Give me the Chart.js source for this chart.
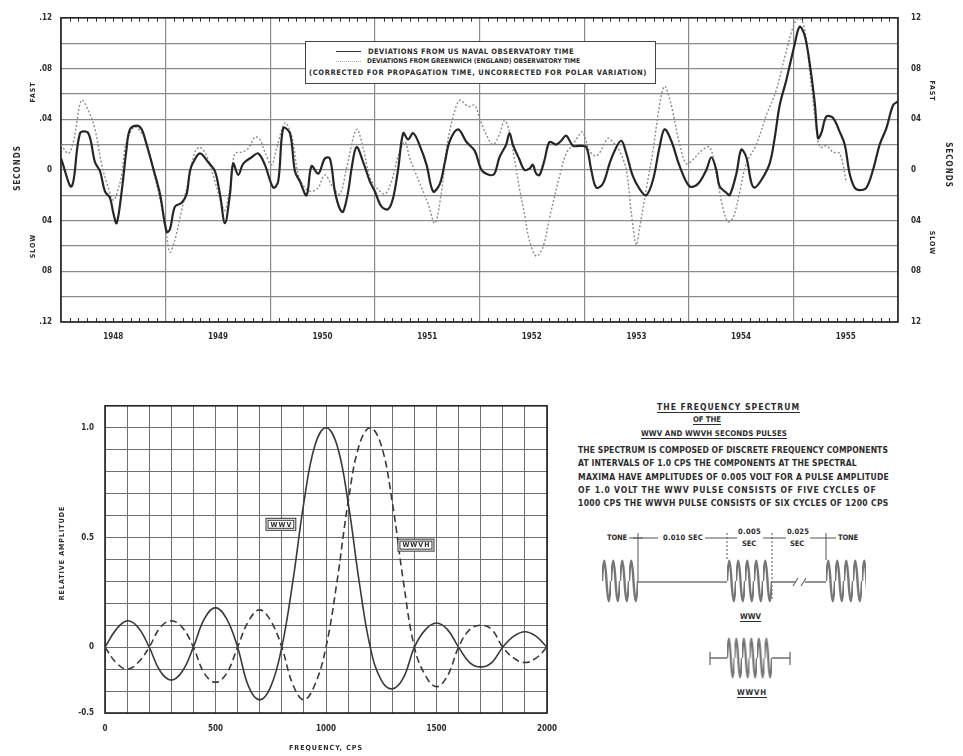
<!DOCTYPE html>
<html><head><meta charset="utf-8">
<script src="https://cdn.jsdelivr.net/npm/chart.js@4.4.1/dist/chart.umd.min.js"></script>
<style>
html,body{margin:0;padding:0;background:#fff;}
#page{position:relative;width:963px;height:756px;overflow:hidden;background:#fff;}
canvas{position:absolute;}
.t{position:absolute;font-family:"Liberation Sans Narrow","DejaVu Sans Condensed",sans-serif;font-weight:bold;color:#2c2c2c;white-space:nowrap;line-height:1;font-size:8.5px;}
.s{font-size:7.5px;}
.xs{font-size:6.6px;}
.m{font-size:7.8px;}
.u{text-decoration:underline;text-underline-offset:2px;}
#legbox{position:absolute;left:305px;top:41px;width:349px;height:41px;border:1.3px solid #444;background:#fff;}
</style></head><body>
<div id="page">
<canvas id="c1" width="963" height="350" style="left:0;top:0"></canvas>
<canvas id="c2" width="570" height="366" style="left:0;top:390px"></canvas>

<div id="legbox"></div>
<div style="position:absolute;left:336px;top:51px;width:25px;border-top:1.4px solid #333"></div>
<div style="position:absolute;left:336px;top:61px;width:25px;border-top:1.2px dotted #aaa"></div>
<div class="t s" data-x="368" data-y="51.5" data-w="206">DEVIATIONS FROM US NAVAL OBSERVATORY TIME</div>
<div class="t xs" data-x="367" data-y="61.5" data-w="213">DEVIATIONS FROM GREENWICH (ENGLAND) OBSERVATORY TIME</div>
<div class="t s" data-x="309" data-y="73" data-w="338">(CORRECTED FOR PROPAGATION TIME, UNCORRECTED FOR POLAR VARIATION)</div>

<div class="t u" data-x="657" data-y="407" data-w="143">THE FREQUENCY SPECTRUM</div>
<div class="t u m" data-x="693" data-y="420" data-w="28">OF THE</div>
<div class="t u m" data-x="641" data-y="434" data-w="146">WWV AND WWVH SECONDS PULSES</div>
<div class="t" data-x="578" data-y="450" data-w="310">THE SPECTRUM IS COMPOSED OF DISCRETE FREQUENCY COMPONENTS</div>
<div class="t" data-x="578" data-y="463" data-w="279">AT INTERVALS OF 1.0 CPS  THE COMPONENTS AT THE SPECTRAL</div>
<div class="t" data-x="578" data-y="477" data-w="311">MAXIMA HAVE AMPLITUDES OF 0.005 VOLT FOR A PULSE AMPLITUDE</div>
<div class="t" data-x="578" data-y="490" data-w="300">OF 1.0 VOLT   THE WWV PULSE CONSISTS OF FIVE CYCLES OF</div>
<div class="t" data-x="578" data-y="503" data-w="311">1000 CPS  THE WWVH PULSE CONSISTS OF SIX CYCLES OF 1200 CPS</div>

<div class="t s" data-x="607" data-y="538" data-w="20">TONE</div>
<div class="t s" data-x="663" data-y="538" data-w="40">0.010 SEC</div>
<div class="t s" data-x="738" data-y="532" data-w="23">0.005</div>
<div class="t s" data-x="742" data-y="544" data-w="14">SEC</div>
<div class="t s" data-x="787" data-y="532" data-w="22">0.025</div>
<div class="t s" data-x="790" data-y="544" data-w="14">SEC</div>
<div class="t s" data-x="838" data-y="538" data-w="20">TONE</div>
<div class="t u m" data-x="740" data-y="617" data-w="21">WWV</div>
<div class="t u m" data-x="737" data-y="693" data-w="30">WWVH</div>

<svg width="963" height="756" style="position:absolute;left:0;top:0;pointer-events:none">
 <defs>
  <pattern id="wt" patternUnits="userSpaceOnUse" x="0" y="0" width="9" height="46">
   <path d="M0,23 C1.6,-4 2.9,-4 4.5,23 C6.1,50 7.4,50 9,23" fill="none" stroke="#767676" stroke-width="2.4"/>
  </pattern>
  <pattern id="wh" patternUnits="userSpaceOnUse" x="0" y="0" width="7.5" height="44">
   <path d="M0,22 C1.35,-4 2.4,-4 3.75,22 C5.1,48 6.15,48 7.5,22" fill="none" stroke="#767676" stroke-width="2.2"/>
  </pattern>
 </defs>
 <g stroke="#555" stroke-width="1" fill="none">
  <line x1="629" y1="538" x2="658" y2="538"/>
  <line x1="705" y1="538" x2="737" y2="538"/>
  <line x1="763" y1="538" x2="786" y2="538"/>
  <line x1="810" y1="538" x2="836" y2="538"/>
  <line x1="638" y1="533" x2="638" y2="582"/>
  <line x1="727" y1="533" x2="727" y2="560" stroke-dasharray="2,2"/>
  <line x1="772" y1="533" x2="772" y2="600" stroke-dasharray="2,2"/>
  <line x1="826" y1="533" x2="826" y2="560"/>
  <line x1="633" y1="538" x2="643" y2="538"/>
  <line x1="638" y1="582" x2="727" y2="582" stroke="#777" stroke-width="1.6"/>
  <line x1="772" y1="582" x2="796" y2="582" stroke="#777" stroke-width="1.6"/>
  <line x1="805" y1="582" x2="826" y2="582" stroke="#777" stroke-width="1.6"/>
  <line x1="793" y1="586" x2="798" y2="578" stroke="#777" stroke-width="1.4"/>
  <line x1="801" y1="586" x2="806" y2="578" stroke="#777" stroke-width="1.4"/>
  <line x1="710" y1="658" x2="727" y2="658" stroke="#777" stroke-width="1.6"/>
  <line x1="772" y1="658" x2="790" y2="658" stroke="#777" stroke-width="1.6"/>
  <line x1="710" y1="652" x2="710" y2="665" stroke="#777" stroke-width="1.4"/>
  <line x1="790" y1="652" x2="790" y2="665" stroke="#777" stroke-width="1.4"/>
 </g>
 <g transform="translate(602,558)"><rect x="0" y="0" width="36" height="46" fill="url(#wt)"/></g>
 <g transform="translate(727,558)"><rect x="0" y="0" width="45" height="46" fill="url(#wt)"/></g>
 <g transform="translate(826,558)"><rect x="0" y="0" width="40" height="46" fill="url(#wt)"/></g>
 <g transform="translate(727,636)"><rect x="0" y="0" width="45" height="44" fill="url(#wh)"/></g>
</svg>
</div>
<script>
// ---------- data: top chart (time deviations, seconds) ----------
const yearStarts = [1948,1949,1950,1951,1952,1953,1954,1955,1956];
const yearNames  = ['1948','1949','1950','1951','1952','1953','1954','1955'];
const secTickVals  = [0.12,0.08,0.04,0,-0.04,-0.08,-0.12];
const secTickLeft  = ['.12','.08','.04','0','04','08','.12'];
const secTickRight = ['12','08','04','0','04','08','12'];

const usnoYear = [1948.000,1948.102,1948.182,1948.261,1948.325,1948.373,1948.420,1948.468,1948.500,1948.532,1948.580,1948.627,1948.659,1948.723,1948.771,1948.818,1948.882,1948.946,
1949.010,1949.041,1949.089,1949.153,1949.201,1949.232,1949.264,1949.328,1949.408,1949.471,1949.519,1949.567,1949.615,1949.646,1949.694,1949.742,1949.822,1949.885,1949.949,
1950.029,1950.076,1950.124,1950.188,1950.236,1950.283,1950.347,1950.395,1950.459,1950.522,1950.570,1950.618,1950.666,1950.697,1950.745,1950.777,1950.825,1950.889,1950.952,
1951.000,1951.064,1951.127,1951.175,1951.223,1951.271,1951.318,1951.366,1951.430,1951.494,1951.557,1951.621,1951.669,1951.717,1951.796,1951.876,1951.955,
1952.019,1952.096,1952.143,1952.191,1952.255,1952.287,1952.319,1952.383,1952.430,1952.478,1952.510,1952.542,1952.574,1952.622,1952.669,1952.733,1952.781,1952.829,1952.893,1952.956,
1953.020,1953.068,1953.116,1953.179,1953.243,1953.291,1953.355,1953.403,1953.466,1953.530,1953.594,1953.658,1953.721,1953.769,1953.833,1953.913,
1954.008,1954.088,1954.168,1954.216,1954.263,1954.295,1954.359,1954.391,1954.455,1954.502,1954.550,1954.598,1954.630,1954.694,1954.773,1954.821,1954.869,1954.933,
1955.012,1955.060,1955.108,1955.156,1955.204,1955.236,1955.267,1955.315,1955.379,1955.443,1955.491,1955.538,1955.586,1955.634,1955.698,1955.761,1955.825,1955.889,1955.953,1956.000];
const usnoSec = [0.009,-0.013,0.029,0.029,0.006,-0.001,-0.017,-0.022,-0.034,-0.042,-0.017,0.017,0.032,0.035,0.032,0.020,0.001,-0.019,
-0.049,-0.047,-0.029,-0.026,-0.019,-0.001,0.006,0.013,0.006,-0.001,-0.019,-0.042,-0.019,0.005,-0.004,0.005,0.010,0.013,0.004,
-0.014,-0.009,0.033,0.029,-0.001,-0.009,-0.020,0.003,-0.003,0.009,0.009,-0.017,-0.031,-0.033,-0.017,0.001,0.018,0.006,-0.009,
-0.017,-0.029,-0.031,-0.022,0.001,0.029,0.024,0.029,0.019,0.004,-0.017,-0.011,0.006,0.023,0.032,0.022,0.015,
0.000,-0.004,-0.003,0.010,0.020,0.029,0.020,0.008,0.000,0.001,0.004,-0.003,-0.004,0.008,0.022,0.020,0.023,0.027,0.019,0.019,
0.018,0.000,-0.014,-0.011,0.005,0.015,0.023,0.013,-0.005,-0.015,-0.020,-0.008,0.018,0.032,0.023,0.003,
-0.013,-0.011,0.000,0.010,0.000,-0.013,-0.018,-0.020,-0.003,0.016,0.010,-0.010,-0.014,-0.008,0.005,0.025,0.051,0.071,
0.099,0.113,0.106,0.084,0.053,0.025,0.029,0.042,0.041,0.030,0.020,-0.003,-0.014,-0.016,-0.014,0.000,0.020,0.033,0.051,0.054];

const grwYear = [1948.000,1948.070,1948.118,1948.150,1948.197,1948.261,1948.325,1948.389,1948.452,1948.500,1948.532,1948.580,1948.611,1948.659,1948.707,1948.771,1948.834,1948.898,1948.962,
1949.010,1949.041,1949.089,1949.153,1949.217,1949.280,1949.328,1949.392,1949.471,1949.535,1949.567,1949.615,1949.662,1949.726,1949.790,1949.854,1949.901,1949.949,
1950.013,1950.061,1950.140,1950.204,1950.268,1950.331,1950.395,1950.459,1950.522,1950.602,1950.666,1950.729,1950.825,1950.889,1950.952,
1951.016,1951.096,1951.159,1951.223,1951.287,1951.334,1951.382,1951.446,1951.510,1951.573,1951.637,1951.685,1951.748,1951.812,1951.892,1951.955,
1952.003,1952.064,1952.128,1952.191,1952.239,1952.287,1952.335,1952.383,1952.430,1952.478,1952.542,1952.606,1952.669,1952.765,1952.829,1952.893,1952.956,1952.988,
1953.052,1953.116,1953.179,1953.227,1953.275,1953.339,1953.403,1953.450,1953.498,1953.530,1953.594,1953.658,1953.721,1953.769,1953.833,1953.913,1953.976,
1954.040,1954.120,1954.200,1954.263,1954.327,1954.375,1954.423,1954.486,1954.550,1954.646,1954.741,1954.837,1954.933,
1955.012,1955.060,1955.108,1955.156,1955.204,1955.252,1955.315,1955.379,1955.443,1955.507];
const grwSec = [0.020,0.013,0.022,0.037,0.055,0.047,0.032,0.004,-0.014,-0.024,-0.019,-0.004,0.017,0.029,0.034,0.029,0.017,-0.006,-0.029,
-0.052,-0.065,-0.055,-0.032,-0.009,0.014,0.018,0.011,-0.009,-0.027,-0.032,-0.014,0.013,0.014,0.017,0.026,0.024,0.014,
0.004,0.017,0.037,0.027,-0.004,-0.014,-0.017,-0.014,-0.004,-0.014,-0.019,0.001,0.032,0.017,-0.006,
-0.014,-0.019,-0.009,0.011,0.022,0.009,-0.001,-0.014,-0.027,-0.042,-0.017,0.017,0.042,0.055,0.050,0.051,
0.040,0.028,0.020,0.028,0.039,0.030,0.008,-0.015,-0.035,-0.056,-0.068,-0.061,-0.038,-0.005,0.013,0.020,0.028,0.030,
0.015,0.011,0.018,0.025,0.022,0.015,0.000,-0.033,-0.059,-0.046,-0.015,0.015,0.051,0.066,0.051,0.020,0.005,
0.008,0.015,0.018,-0.003,-0.030,-0.041,-0.038,-0.018,0.005,0.020,0.043,0.063,0.094,
0.116,0.120,0.111,0.078,0.043,0.018,0.019,0.014,0.013,-0.010];

// ---------- data: bottom chart (frequency spectrum) ----------
const freqCps = [0,50,100,150,200,250,300,350,400,450,500,550,600,650,700,750,800,850,900,950,1000,1050,1100,1150,1200,1250,1300,1350,1400,1450,1500,1550,1600,1650,1700,1750,1800,1850,1900,1950,2000];
const wwvAmp  = [0,0.08,0.12,0.09,0,-0.11,-0.15,-0.11,0,0.13,0.18,0.13,0,-0.18,-0.24,-0.18,0,0.30,0.66,0.92,1.0,0.92,0.66,0.30,0,-0.15,-0.19,-0.14,0,0.08,0.11,0.08,0,-0.07,-0.09,-0.07,0,0.05,0.07,0.05,0];
const wwvhAmp = [0,-0.07,-0.10,-0.07,0,0.09,0.12,0.09,0,-0.12,-0.16,-0.12,0,0.12,0.17,0.12,0,-0.17,-0.24,-0.17,0,0.30,0.66,0.92,1.0,0.92,0.66,0.30,0,-0.13,-0.18,-0.13,0,0.08,0.10,0.08,0,-0.05,-0.07,-0.05,0];
const freqTickVals = [0,500,1000,1500,2000];
const freqTickText = ['0','500','1000','1500','2000'];
const ampTickVals = [1.0,0.5,0,-0.3];
const ampTickText = ['1.0','0.5','0','-0.5'];

// ---------- html text fitting ----------
document.querySelectorAll('.t').forEach(el=>{
  const w = +el.dataset.w, n = el.textContent.length;
  const nat = el.getBoundingClientRect().width;
  if (w) el.style.letterSpacing = ((w - nat) / n) + 'px';
  const h = el.getBoundingClientRect().height;
  el.style.left = el.dataset.x + 'px';
  el.style.top = (+el.dataset.y - h/2) + 'px';
});

const FONT = '"DejaVu Sans Condensed","Liberation Sans Narrow",sans-serif';
const INK = '#2c2c2c';
function near(a,b){return Math.abs(a-b)<1e-6;}
function rtext(ctx,s,x,y,rot,size){
  ctx.save(); ctx.translate(x,y); ctx.rotate(rot);
  ctx.font='bold '+size+'px '+FONT; ctx.fillStyle=INK;
  ctx.textAlign='center'; ctx.textBaseline='middle';
  try{ctx.letterSpacing='1px';}catch(e){}
  ctx.fillText(s,0,0); ctx.restore();
}

// ---------- top chart ----------
const decor1 = {
  id:'decor1',
  beforeDatasetsDraw(chart){
    const {ctx, chartArea:a, scales:{x}} = chart;
    ctx.save();
    ctx.strokeStyle='#333'; ctx.lineWidth=1;
    for (let i=0;i<yearNames.length;i++){
      for (let m=1;m<12;m++){
        const px = Math.round(x.getPixelForValue(yearStarts[i]+m/12))+0.5;
        ctx.beginPath();
        ctx.moveTo(px,a.bottom); ctx.lineTo(px,a.bottom-4);
        ctx.moveTo(px,a.top); ctx.lineTo(px,a.top+4);
        ctx.stroke();
      }
    }
    ctx.strokeStyle='#222'; ctx.lineWidth=1.6;
    ctx.strokeRect(a.left,a.top,a.right-a.left,a.bottom-a.top);
    ctx.restore();
  },
  afterDraw(chart){
    const ctx = chart.ctx;
    rtext(ctx,'SECONDS',18,168,-Math.PI/2,8);
    rtext(ctx,'FAST',33,92,-Math.PI/2,7);
    rtext(ctx,'SLOW',33,246,-Math.PI/2,7);
    rtext(ctx,'SECONDS',948,165,Math.PI/2,8);
    rtext(ctx,'FAST',932,91,Math.PI/2,7);
    rtext(ctx,'SLOW',932,243,Math.PI/2,7);
  }
};

new Chart(document.getElementById('c1'), {
  type:'line',
  data:{datasets:[
    {label:'DEVIATIONS FROM US NAVAL OBSERVATORY TIME',
     data:usnoYear.map((v,i)=>({x:v,y:usnoSec[i]})),
     borderColor:'#262626', borderWidth:2.2, pointRadius:0, tension:0.35, fill:false},
    {label:'DEVIATIONS FROM GREENWICH (ENGLAND) OBSERVATORY TIME',
     data:grwYear.map((v,i)=>({x:v,y:grwSec[i]})),
     borderColor:'#8c8c8c', borderWidth:1.4, borderDash:[2,2], pointRadius:0, tension:0.35, fill:false}
  ]},
  options:{
    responsive:false, devicePixelRatio:1, animation:false,
    layout:{padding:{top:10,right:0,left:0,bottom:0}},
    plugins:{legend:{display:false},tooltip:{enabled:false}},
    scales:{
      x:{type:'linear', min:1948, max:1956,
        afterBuildTicks(s){const t=[];yearStarts.forEach((y,i)=>{t.push({value:y}); if(i<yearNames.length) t.push({value:y+0.5});}); s.ticks=t;},
        afterFit(s){s.height=28;},
        grid:{drawTicks:false, color:c=>(c.tick && near(c.tick.value%1,0))?'#8a8a8a':'rgba(0,0,0,0)', lineWidth:1.2},
        border:{display:false},
        ticks:{autoSkip:false,maxRotation:0,padding:10,color:INK,font:{family:FONT,weight:'bold',size:8},
          callback(v){return near(v%1,0.5)?yearNames[Math.floor(v)-1948]:'';}}
      },
      y:{type:'linear', position:'left', min:-0.12, max:0.12,
        afterBuildTicks(s){const t=[];for(let k=-6;k<=6;k++)t.push({value:k*0.02});s.ticks=t;},
        afterFit(s){s.width=61;},
        grid:{drawTicks:false,color:'#8a8a8a',lineWidth:1.2},
        border:{display:false},
        ticks:{autoSkip:false,padding:9,color:INK,font:{family:FONT,weight:'bold',size:8},
          callback(v){const i=secTickVals.findIndex(q=>near(q,v));return i<0?'':secTickLeft[i];}}
      },
      y2:{type:'linear', position:'right', min:-0.12, max:0.12,
        afterBuildTicks(s){const t=[];for(let k=-6;k<=6;k++)t.push({value:k*0.02});s.ticks=t;},
        afterFit(s){s.width=65;},
        grid:{display:false,drawTicks:false},
        border:{display:false},
        ticks:{autoSkip:false,padding:13,color:INK,font:{family:FONT,weight:'bold',size:8},
          callback(v){const i=secTickVals.findIndex(q=>near(q,v));return i<0?'':secTickRight[i];}}
      }
    }
  },
  plugins:[decor1]
});

// ---------- bottom chart ----------
const decor2 = {
  id:'decor2',
  beforeDatasetsDraw(chart){
    const {ctx, chartArea:a} = chart;
    ctx.save(); ctx.strokeStyle='#222'; ctx.lineWidth=1.6;
    ctx.strokeRect(a.left,a.top,a.right-a.left,a.bottom-a.top); ctx.restore();
  },
  afterDatasetsDraw(chart){
    const {ctx, scales:{x,y}} = chart;
    const tags=[{txt:'WWV',f:796,v:0.56},{txt:'WWVH',f:1407,v:0.465}];
    ctx.save();
    ctx.font='bold 7px '+FONT;
    try{ctx.letterSpacing='1px';}catch(e){}
    tags.forEach(t=>{
      const cx=x.getPixelForValue(t.f), cy=y.getPixelForValue(t.v);
      const w=ctx.measureText(t.txt).width+8, h=12;
      ctx.fillStyle='#fff'; ctx.fillRect(cx-w/2,cy-h/2,w,h);
      ctx.strokeStyle='#333'; ctx.lineWidth=1;
      ctx.strokeRect(cx-w/2,cy-h/2,w,h);
      ctx.strokeRect(cx-w/2+2,cy-h/2+2,w-4,h-4);
      ctx.fillStyle=INK; ctx.textAlign='center'; ctx.textBaseline='middle';
      ctx.fillText(t.txt,cx+0.5,cy+0.5);
    });
    ctx.restore();
  },
  afterDraw(chart){
    const ctx=chart.ctx;
    rtext(ctx,'RELATIVE AMPLITUDE',62,163,-Math.PI/2,7);
    rtext(ctx,'FREQUENCY, CPS',326,358,0,7);
  }
};

new Chart(document.getElementById('c2'), {
  type:'line',
  data:{datasets:[
    {label:'WWV', data:freqCps.map((f,i)=>({x:f,y:wwvAmp[i]})),
     borderColor:'#3a3a3a', borderWidth:1.6, pointRadius:0, tension:0.4, fill:false},
    {label:'WWVH', data:freqCps.map((f,i)=>({x:f,y:wwvhAmp[i]})),
     borderColor:'#3a3a3a', borderWidth:1.6, borderDash:[7,4], pointRadius:0, tension:0.4, fill:false}
  ]},
  options:{
    responsive:false, devicePixelRatio:1, animation:false,
    layout:{padding:{top:15,right:23,left:0,bottom:0}},
    plugins:{legend:{display:false},tooltip:{enabled:false}},
    scales:{
      x:{type:'linear', min:0, max:2000,
        afterBuildTicks(s){const t=[];for(let k=0;k<=20;k++)t.push({value:k*100});s.ticks=t;},
        afterFit(s){s.height=43;},
        grid:{drawTicks:false,color:'#6e6e6e',lineWidth:1},
        border:{display:false},
        ticks:{autoSkip:false,maxRotation:0,padding:11,color:INK,font:{family:FONT,weight:'bold',size:8},
          callback(v){const i=freqTickVals.indexOf(v);return i<0?'':freqTickText[i];}}
      },
      y:{type:'linear', min:-0.3, max:1.1,
        afterBuildTicks(s){const t=[];for(let k=-3;k<=11;k++)t.push({value:k/10});s.ticks=t;},
        afterFit(s){s.width=105;},
        grid:{drawTicks:false,color:'#6e6e6e',lineWidth:1},
        border:{display:false},
        ticks:{autoSkip:false,padding:11,color:INK,font:{family:FONT,weight:'bold',size:8},
          callback(v){const i=ampTickVals.findIndex(q=>near(q,v));return i<0?'':ampTickText[i];}}
      }
    }
  },
  plugins:[decor2]
});
</script>
</body></html>
